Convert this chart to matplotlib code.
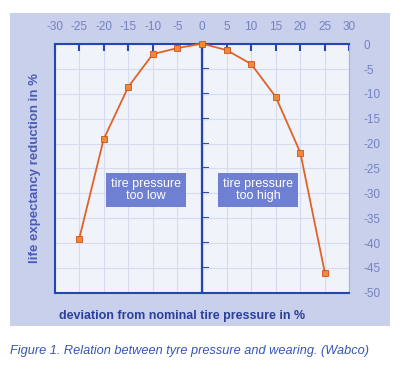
import numpy as np
import matplotlib.pyplot as plt
from matplotlib.patches import Rectangle

plt.rcParams['font.family'] = ['Liberation Sans', 'DejaVu Sans']
plt.rcParams['axes.unicode_minus'] = False

# data
deviation = [-25, -20, -15, -10, -5, 0, 5, 10, 15, 20, 25]
reduction = [-39.2, -19.1, -8.6, -2.0, -0.8, 0.1, -1.2, -4.0, -10.6, -21.8, -46.0]
xticks = [-30, -25, -20, -15, -10, -5, 0, 5, 10, 15, 20, 25, 30]
yticks = [0, -5, -10, -15, -20, -25, -30, -35, -40, -45, -50]

blue = '#2446b4'
lblue = '#7482c4'
panel = '#c9d0ec'

fig = plt.figure(figsize=(4.04, 3.74), dpi=100)
fig.patch.set_facecolor('white')
fig.patches.append(Rectangle((0.025, 0.128), 0.94, 0.837, transform=fig.transFigure,
                             facecolor=panel, edgecolor='none', zorder=-10))

ax = fig.add_axes([0.135, 0.217, 0.73, 0.665])
ax.set_facecolor('#f1f3fa')
ax.plot(deviation, reduction, color='#e0622a', lw=1.3, marker='s', ms=4.5,
        mfc='#f08a3a', mec='#d0501e', mew=0.6, zorder=5, clip_on=False)

ax.set_xlim(-30, 30)
ax.set_ylim(-50, 0)
ax.set_xticks(xticks)
ax.set_yticks(yticks)
ax.grid(True, color='#d5dbf0', lw=0.8)
ax.set_axisbelow(True)

ax.xaxis.tick_top()
ax.tick_params(axis='x', direction='in', length=5, width=1.5, color=blue,
               labelsize=8.5, labelcolor=lblue, pad=8)
ax.yaxis.tick_right()
ax.tick_params(axis='y', length=0, labelsize=8.5, labelcolor=lblue, pad=10)

for s in ['top', 'left', 'bottom']:
    ax.spines[s].set_color(blue)
    ax.spines[s].set_linewidth(1.5)
ax.spines['right'].set_color('#a8b0d0')
ax.spines['right'].set_linewidth(0.8)

# centre axis at x = 0
ax.axvline(0, color=blue, lw=1.6, zorder=4)
mid = ax.secondary_yaxis(0.5)
mid.set_yticks(yticks[1:-1])
mid.set_yticklabels([])
mid.tick_params(direction='out', length=5, width=1.5, color=blue,
                labelleft=False, labelright=False)
mid.spines['left'].set_visible(False)

ax.yaxis.set_label_position('left')
ax.set_ylabel('life expectancy reduction in %', color='#4a5cb8', fontsize=9.5,
              fontweight='bold', labelpad=10)

box = dict(boxstyle='square,pad=0.4', facecolor='#6f80d2', edgecolor='none')
ax.text(-11.4, -29.3, 'tire pressure\ntoo low', color='white', fontsize=9,
        ha='center', va='center', linespacing=1.0, bbox=box, zorder=6)
ax.text(11.4, -29.3, 'tire pressure\ntoo high', color='white', fontsize=9,
        ha='center', va='center', linespacing=1.0, bbox=box, zorder=6)

fig.text(0.45, 0.155, 'deviation from nominal tire pressure in %', color='#2c3f9a',
         fontsize=9, fontweight='bold', ha='center', va='center')
fig.text(0.025, 0.062, 'Figure 1. Relation between tyre pressure and wearing. (Wabco)',
         color='#3555b5', fontsize=9.2, style='italic', ha='left', va='center')

fig.savefig('out.png', dpi=100)
